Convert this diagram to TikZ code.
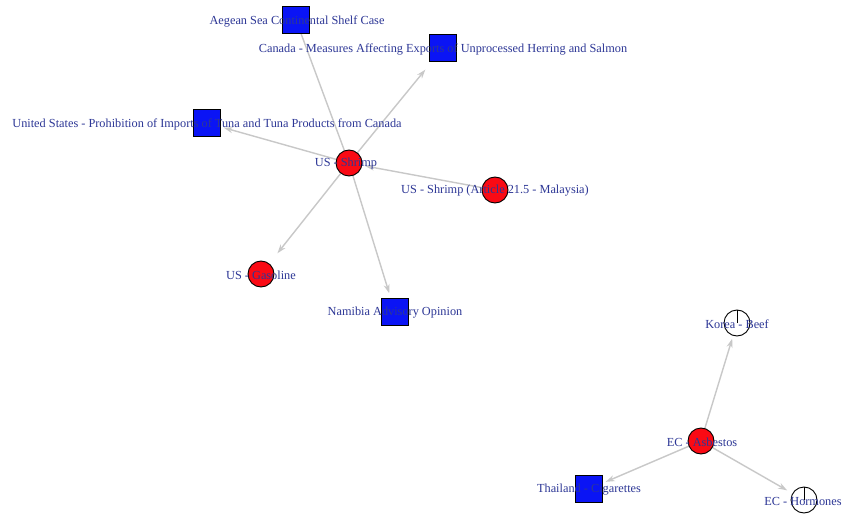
\documentclass[tikz,border=0pt]{standalone}
\usepackage{fontspec}
\setmainfont{Liberation Serif}
\usetikzlibrary{arrows.meta,backgrounds}
\definecolor{lab}{RGB}{45,55,150}
\definecolor{edgec}{RGB}{200,200,200}
\definecolor{bluev}{RGB}{10,20,245}
\definecolor{redv}{RGB}{250,10,20}
\tikzset{
  lbl/.style={font=\fontsize{12.3}{13}\selectfont, text=lab, inner sep=0pt, yshift=-1pt},
  sq/.style={draw=black, line width=0.9pt, fill=bluev, minimum size=27pt, inner sep=0pt, rectangle},
  rc/.style={draw=black, line width=0.9pt, fill=redv, minimum size=26pt, inner sep=0pt, circle},
  pie/.style={draw=black, line width=0.9pt, fill=white, minimum size=26pt, inner sep=0pt, circle,
    path picture={\draw[line width=0.9pt] (path picture bounding box.center) -- (path picture bounding box.north);}},
  ed/.style={draw=edgec, line width=1.4pt, -{Stealth[length=9pt,width=6pt]}, shorten >=3pt},
  edplain/.style={draw=edgec, line width=1.4pt},
}
\begin{document}
\begin{tikzpicture}[x=1pt,y=-1pt]
\useasboundingbox (0,0) rectangle (846,516);
% vertices
\node[sq] (aegean) at (296,20) {};
\node[sq] (canada) at (443,48) {};
\node[sq] (tuna) at (207,123) {};
\node[rc] (shrimp) at (349,163) {};
\node[rc] (malaysia) at (495,190) {};
\node[rc] (gasoline) at (261,274) {};
\node[sq] (namibia) at (395,312) {};
\node[pie] (korea) at (737,323) {};
\node[rc] (asbestos) at (701,441) {};
\node[sq] (thailand) at (589,489) {};
\node[pie] (hormones) at (804,500) {};
% labels
\node[lbl] (laegean) at (297,20) {Aegean Sea Continental Shelf Case};
\node[lbl] (lcanada) at (443,48) {Canada - Measures Affecting Exports of Unprocessed Herring and Salmon};
\node[lbl] (ltuna) at (207,123) {United States - Prohibition of Imports of Tuna and Tuna Products from Canada};
\node[lbl] (lshrimp) at (346,163) {US - Shrimp};
\node[lbl] (lmalaysia) at (495,190) {US - Shrimp (Article 21.5 - Malaysia)};
\node[lbl] (lgasoline) at (261,274) {US - Gasoline};
\node[lbl] (lnamibia) at (395,312) {Namibia Advisory Opinion};
\node[lbl] (lkorea) at (737,323) {Korea - Beef};
\node[lbl] (lasbestos) at (702,441) {EC - Asbestos};
\node[lbl] (lthailand) at (589,489) {Thailand - Cigarettes};
\node[lbl] (lhormones) at (803,500) {EC - Hormones};
% edges
\begin{scope}[on background layer]
\fill[white] (0,0) rectangle (846,516);
\draw[edplain] (shrimp.center) -- (aegean);
\draw[ed, shorten >=10pt] (shrimp.center) -- (canada);
\draw[ed] (shrimp.center) -- (tuna);
\draw[ed] (malaysia.center) -- (shrimp);
\draw[ed, shorten >=13pt] (shrimp.center) -- (gasoline);
\draw[ed, shorten >=5pt] (shrimp.center) -- (namibia);
\draw[ed] (asbestos.center) -- (korea);
\draw[ed, shorten >=6pt] (asbestos.center) -- (hormones);
\draw[ed] (asbestos.center) -- (thailand);
\end{scope}
\end{tikzpicture}
\end{document}
